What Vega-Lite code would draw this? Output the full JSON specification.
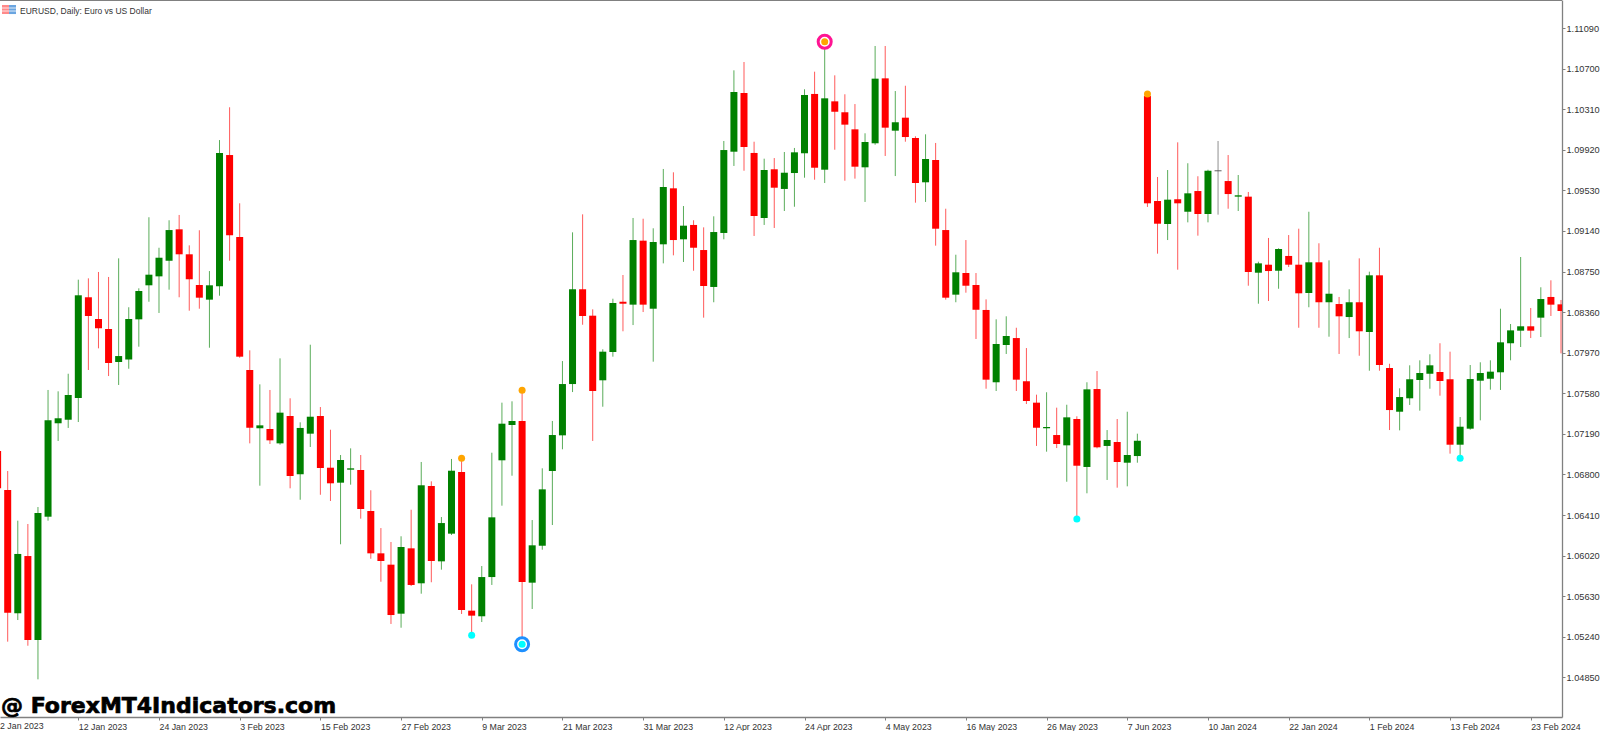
{
  "$schema": "https://vega.github.io/schema/vega-lite/v6.json",
  "width": 1562,
  "height": 717,
  "autosize": {"type": "none"},
  "padding": {"left": 0, "top": 0, "right": 38, "bottom": 14},
  "background": "#ffffff",
  "config": {"view": {"stroke": null}},
  "data": {"values": [
    {"i":-1,"o":1.07025,"h":1.07045,"l":1.06660,"c":1.06667,"d":"down"},
    {"i":0,"o":1.06651,"h":1.06833,"l":1.05193,"c":1.05471,"d":"down"},
    {"i":1,"o":1.05466,"h":1.06356,"l":1.05401,"c":1.06036,"d":"up"},
    {"i":2,"o":1.06016,"h":1.06324,"l":1.05154,"c":1.05209,"d":"down"},
    {"i":3,"o":1.05209,"h":1.06487,"l":1.04831,"c":1.06430,"d":"up"},
    {"i":4,"o":1.06394,"h":1.07612,"l":1.06356,"c":1.07321,"d":"up"},
    {"i":5,"o":1.07292,"h":1.07599,"l":1.07122,"c":1.07340,"d":"up"},
    {"i":6,"o":1.07326,"h":1.07768,"l":1.07247,"c":1.07564,"d":"up"},
    {"i":7,"o":1.07535,"h":1.08672,"l":1.07304,"c":1.08522,"d":"up"},
    {"i":8,"o":1.08503,"h":1.08685,"l":1.07804,"c":1.08323,"d":"down"},
    {"i":9,"o":1.08294,"h":1.08746,"l":1.08012,"c":1.08205,"d":"down"},
    {"i":10,"o":1.08198,"h":1.08698,"l":1.07746,"c":1.07871,"d":"down"},
    {"i":11,"o":1.07881,"h":1.08877,"l":1.07660,"c":1.07938,"d":"up"},
    {"i":12,"o":1.07905,"h":1.08407,"l":1.07816,"c":1.08294,"d":"up"},
    {"i":13,"o":1.08291,"h":1.08589,"l":1.08028,"c":1.08563,"d":"up"},
    {"i":14,"o":1.08618,"h":1.09272,"l":1.08460,"c":1.08720,"d":"up"},
    {"i":15,"o":1.08704,"h":1.08979,"l":1.08352,"c":1.08883,"d":"up"},
    {"i":16,"o":1.08854,"h":1.09243,"l":1.08576,"c":1.09149,"d":"up"},
    {"i":17,"o":1.09156,"h":1.09294,"l":1.08503,"c":1.08916,"d":"down"},
    {"i":18,"o":1.08916,"h":1.09002,"l":1.08374,"c":1.08676,"d":"down"},
    {"i":19,"o":1.08621,"h":1.09147,"l":1.08393,"c":1.08499,"d":"down"},
    {"i":20,"o":1.08480,"h":1.08755,"l":1.08018,"c":1.08618,"d":"up"},
    {"i":21,"o":1.08608,"h":1.10014,"l":1.08518,"c":1.09890,"d":"up"},
    {"i":22,"o":1.09870,"h":1.10329,"l":1.08854,"c":1.09099,"d":"down"},
    {"i":23,"o":1.09082,"h":1.09406,"l":1.07922,"c":1.07932,"d":"down"},
    {"i":24,"o":1.07804,"h":1.07993,"l":1.07099,"c":1.07249,"d":"down"},
    {"i":25,"o":1.07244,"h":1.07666,"l":1.06692,"c":1.07272,"d":"up"},
    {"i":26,"o":1.07237,"h":1.07612,"l":1.07093,"c":1.07128,"d":"down"},
    {"i":27,"o":1.07099,"h":1.07916,"l":1.07086,"c":1.07394,"d":"up"},
    {"i":28,"o":1.07362,"h":1.07532,"l":1.06667,"c":1.06785,"d":"down"},
    {"i":29,"o":1.06802,"h":1.07301,"l":1.06557,"c":1.07247,"d":"up"},
    {"i":30,"o":1.07192,"h":1.08047,"l":1.07064,"c":1.07355,"d":"up"},
    {"i":31,"o":1.07362,"h":1.07448,"l":1.06605,"c":1.06862,"d":"down"},
    {"i":32,"o":1.06865,"h":1.07230,"l":1.06545,"c":1.06715,"d":"down"},
    {"i":33,"o":1.06721,"h":1.06987,"l":1.06129,"c":1.06939,"d":"up"},
    {"i":34,"o":1.06846,"h":1.07051,"l":1.06702,"c":1.06859,"d":"up"},
    {"i":35,"o":1.06843,"h":1.06987,"l":1.06375,"c":1.06468,"d":"down"},
    {"i":36,"o":1.06449,"h":1.06648,"l":1.05990,"c":1.06042,"d":"down"},
    {"i":37,"o":1.06042,"h":1.06285,"l":1.05769,"c":1.05968,"d":"down"},
    {"i":38,"o":1.05933,"h":1.06151,"l":1.05363,"c":1.05449,"d":"down"},
    {"i":39,"o":1.05462,"h":1.06206,"l":1.05327,"c":1.06103,"d":"up"},
    {"i":40,"o":1.06090,"h":1.06461,"l":1.05728,"c":1.05738,"d":"down"},
    {"i":41,"o":1.05754,"h":1.06920,"l":1.05654,"c":1.06696,"d":"up"},
    {"i":42,"o":1.06689,"h":1.06734,"l":1.05764,"c":1.05968,"d":"down"},
    {"i":43,"o":1.05965,"h":1.06391,"l":1.05885,"c":1.06333,"d":"up"},
    {"i":44,"o":1.06231,"h":1.06949,"l":1.06218,"c":1.06836,"d":"up"},
    {"i":45,"o":1.06824,"h":1.06955,"l":1.05459,"c":1.05497,"d":"down"},
    {"i":46,"o":1.05491,"h":1.05744,"l":1.05254,"c":1.05443,"d":"down"},
    {"i":47,"o":1.05437,"h":1.05920,"l":1.05382,"c":1.05814,"d":"up"},
    {"i":48,"o":1.05814,"h":1.07009,"l":1.05738,"c":1.06388,"d":"up"},
    {"i":49,"o":1.06936,"h":1.07490,"l":1.06500,"c":1.07288,"d":"up"},
    {"i":50,"o":1.07275,"h":1.07503,"l":1.06788,"c":1.07314,"d":"up"},
    {"i":51,"o":1.07314,"h":1.07609,"l":1.05168,"c":1.05766,"d":"down"},
    {"i":52,"o":1.05760,"h":1.06362,"l":1.05507,"c":1.06119,"d":"up"},
    {"i":53,"o":1.06115,"h":1.06859,"l":1.06077,"c":1.06657,"d":"up"},
    {"i":54,"o":1.06833,"h":1.07314,"l":1.06314,"c":1.07179,"d":"up"},
    {"i":55,"o":1.07176,"h":1.07890,"l":1.07042,"c":1.07669,"d":"up"},
    {"i":56,"o":1.07669,"h":1.09127,"l":1.07592,"c":1.08580,"d":"up"},
    {"i":57,"o":1.08580,"h":1.09300,"l":1.08239,"c":1.08323,"d":"down"},
    {"i":58,"o":1.08326,"h":1.08387,"l":1.07122,"c":1.07602,"d":"down"},
    {"i":59,"o":1.07705,"h":1.08003,"l":1.07451,"c":1.07980,"d":"up"},
    {"i":60,"o":1.07977,"h":1.08489,"l":1.07932,"c":1.08448,"d":"up"},
    {"i":61,"o":1.08460,"h":1.08717,"l":1.08176,"c":1.08441,"d":"down"},
    {"i":62,"o":1.08432,"h":1.09265,"l":1.08236,"c":1.09053,"d":"up"},
    {"i":63,"o":1.09047,"h":1.09258,"l":1.08361,"c":1.08432,"d":"down"},
    {"i":64,"o":1.08393,"h":1.09166,"l":1.07884,"c":1.09034,"d":"up"},
    {"i":65,"o":1.09012,"h":1.09736,"l":1.08829,"c":1.09563,"d":"up"},
    {"i":66,"o":1.09550,"h":1.09704,"l":1.08906,"c":1.09053,"d":"down"},
    {"i":67,"o":1.09060,"h":1.09380,"l":1.08842,"c":1.09191,"d":"up"},
    {"i":68,"o":1.09198,"h":1.09243,"l":1.08758,"c":1.08979,"d":"down"},
    {"i":69,"o":1.08957,"h":1.09175,"l":1.08307,"c":1.08611,"d":"down"},
    {"i":70,"o":1.08602,"h":1.09281,"l":1.08455,"c":1.09130,"d":"up"},
    {"i":71,"o":1.09121,"h":1.10005,"l":1.09060,"c":1.09918,"d":"up"},
    {"i":72,"o":1.09902,"h":1.10684,"l":1.09765,"c":1.10476,"d":"up"},
    {"i":73,"o":1.10466,"h":1.10764,"l":1.09719,"c":1.09947,"d":"down"},
    {"i":74,"o":1.09890,"h":1.09998,"l":1.09092,"c":1.09284,"d":"down"},
    {"i":75,"o":1.09265,"h":1.09835,"l":1.09198,"c":1.09726,"d":"up"},
    {"i":76,"o":1.09733,"h":1.09841,"l":1.09169,"c":1.09556,"d":"down"},
    {"i":77,"o":1.09544,"h":1.09899,"l":1.09332,"c":1.09700,"d":"up"},
    {"i":78,"o":1.09697,"h":1.09938,"l":1.09373,"c":1.09896,"d":"up"},
    {"i":79,"o":1.09887,"h":1.10502,"l":1.09652,"c":1.10447,"d":"up"},
    {"i":80,"o":1.10457,"h":1.10671,"l":1.09633,"c":1.09748,"d":"down"},
    {"i":81,"o":1.09729,"h":1.10959,"l":1.09601,"c":1.10415,"d":"up"},
    {"i":82,"o":1.10386,"h":1.10636,"l":1.09921,"c":1.10286,"d":"down"},
    {"i":83,"o":1.10281,"h":1.10454,"l":1.09623,"c":1.10162,"d":"down"},
    {"i":84,"o":1.10117,"h":1.10360,"l":1.09643,"c":1.09758,"d":"down"},
    {"i":85,"o":1.09752,"h":1.10079,"l":1.09419,"c":1.09995,"d":"up"},
    {"i":86,"o":1.09983,"h":1.10918,"l":1.09969,"c":1.10604,"d":"up"},
    {"i":87,"o":1.10607,"h":1.10918,"l":1.09861,"c":1.10133,"d":"down"},
    {"i":88,"o":1.10104,"h":1.10485,"l":1.09668,"c":1.10185,"d":"up"},
    {"i":89,"o":1.10229,"h":1.10536,"l":1.09998,"c":1.10043,"d":"down"},
    {"i":90,"o":1.10034,"h":1.10050,"l":1.09412,"c":1.09601,"d":"down"},
    {"i":91,"o":1.09608,"h":1.10069,"l":1.09419,"c":1.09832,"d":"up"},
    {"i":92,"o":1.09822,"h":1.09986,"l":1.08999,"c":1.09162,"d":"down"},
    {"i":93,"o":1.09149,"h":1.09354,"l":1.08480,"c":1.08499,"d":"down"},
    {"i":94,"o":1.08528,"h":1.08912,"l":1.08455,"c":1.08743,"d":"up"},
    {"i":95,"o":1.08736,"h":1.09053,"l":1.08547,"c":1.08614,"d":"down"},
    {"i":96,"o":1.08621,"h":1.08736,"l":1.08102,"c":1.08383,"d":"down"},
    {"i":97,"o":1.08381,"h":1.08483,"l":1.07624,"c":1.07711,"d":"down"},
    {"i":98,"o":1.07686,"h":1.08291,"l":1.07602,"c":1.08054,"d":"up"},
    {"i":99,"o":1.08044,"h":1.08320,"l":1.07958,"c":1.08131,"d":"up"},
    {"i":100,"o":1.08111,"h":1.08210,"l":1.07602,"c":1.07711,"d":"down"},
    {"i":101,"o":1.07695,"h":1.08015,"l":1.07477,"c":1.07506,"d":"down"},
    {"i":102,"o":1.07490,"h":1.07567,"l":1.07074,"c":1.07249,"d":"down"},
    {"i":103,"o":1.07244,"h":1.07590,"l":1.07019,"c":1.07256,"d":"up"},
    {"i":104,"o":1.07179,"h":1.07442,"l":1.07054,"c":1.07093,"d":"down"},
    {"i":105,"o":1.07080,"h":1.07470,"l":1.06730,"c":1.07349,"d":"up"},
    {"i":106,"o":1.07333,"h":1.07359,"l":1.06372,"c":1.06884,"d":"down"},
    {"i":107,"o":1.06872,"h":1.07686,"l":1.06619,"c":1.07618,"d":"up"},
    {"i":108,"o":1.07621,"h":1.07794,"l":1.07051,"c":1.07061,"d":"down"},
    {"i":109,"o":1.07074,"h":1.07227,"l":1.06747,"c":1.07131,"d":"up"},
    {"i":110,"o":1.07112,"h":1.07333,"l":1.06673,"c":1.06920,"d":"down"},
    {"i":111,"o":1.06913,"h":1.07403,"l":1.06686,"c":1.06987,"d":"up"},
    {"i":112,"o":1.06977,"h":1.07192,"l":1.06913,"c":1.07124,"d":"up"},
    {"i":113,"o":1.10437,"h":1.10457,"l":1.09371,"c":1.09406,"d":"down"},
    {"i":114,"o":1.09428,"h":1.09659,"l":1.08922,"c":1.09210,"d":"down"},
    {"i":115,"o":1.09207,"h":1.09726,"l":1.09053,"c":1.09441,"d":"up"},
    {"i":116,"o":1.09445,"h":1.09992,"l":1.08768,"c":1.09406,"d":"down"},
    {"i":117,"o":1.09325,"h":1.09791,"l":1.09223,"c":1.09502,"d":"up"},
    {"i":118,"o":1.09524,"h":1.09666,"l":1.09095,"c":1.09303,"d":"down"},
    {"i":119,"o":1.09303,"h":1.09729,"l":1.09223,"c":1.09719,"d":"up"},
    {"i":120,"o":1.09723,"h":1.10005,"l":1.09297,"c":1.09714,"d":"flat"},
    {"i":121,"o":1.09620,"h":1.09870,"l":1.09354,"c":1.09495,"d":"down"},
    {"i":122,"o":1.09470,"h":1.09678,"l":1.09332,"c":1.09483,"d":"up"},
    {"i":123,"o":1.09470,"h":1.09515,"l":1.08614,"c":1.08746,"d":"down"},
    {"i":124,"o":1.08739,"h":1.08845,"l":1.08441,"c":1.08829,"d":"up"},
    {"i":125,"o":1.08816,"h":1.09073,"l":1.08467,"c":1.08755,"d":"down"},
    {"i":126,"o":1.08758,"h":1.08974,"l":1.08585,"c":1.08967,"d":"up"},
    {"i":127,"o":1.08900,"h":1.09101,"l":1.08794,"c":1.08816,"d":"down"},
    {"i":128,"o":1.08816,"h":1.09162,"l":1.08210,"c":1.08541,"d":"down"},
    {"i":129,"o":1.08544,"h":1.09325,"l":1.08407,"c":1.08839,"d":"up"},
    {"i":130,"o":1.08839,"h":1.09022,"l":1.08210,"c":1.08455,"d":"down"},
    {"i":131,"o":1.08455,"h":1.08858,"l":1.08124,"c":1.08537,"d":"up"},
    {"i":132,"o":1.08438,"h":1.08506,"l":1.07958,"c":1.08320,"d":"down"},
    {"i":133,"o":1.08313,"h":1.08580,"l":1.08111,"c":1.08455,"d":"up"},
    {"i":134,"o":1.08455,"h":1.08877,"l":1.07941,"c":1.08176,"d":"down"},
    {"i":135,"o":1.08169,"h":1.08749,"l":1.07797,"c":1.08714,"d":"up"},
    {"i":136,"o":1.08714,"h":1.08979,"l":1.07797,"c":1.07852,"d":"down"},
    {"i":137,"o":1.07823,"h":1.07864,"l":1.07227,"c":1.07419,"d":"down"},
    {"i":138,"o":1.07403,"h":1.07628,"l":1.07224,"c":1.07544,"d":"up"},
    {"i":139,"o":1.07532,"h":1.07849,"l":1.07468,"c":1.07715,"d":"up"},
    {"i":140,"o":1.07708,"h":1.07897,"l":1.07413,"c":1.07775,"d":"up"},
    {"i":141,"o":1.07768,"h":1.07955,"l":1.07624,"c":1.07849,"d":"up"},
    {"i":142,"o":1.07785,"h":1.08061,"l":1.07557,"c":1.07698,"d":"down"},
    {"i":143,"o":1.07715,"h":1.07980,"l":1.07000,"c":1.07086,"d":"down"},
    {"i":144,"o":1.07086,"h":1.07352,"l":1.06955,"c":1.07259,"d":"up"},
    {"i":145,"o":1.07240,"h":1.07852,"l":1.07230,"c":1.07717,"d":"up"},
    {"i":146,"o":1.07701,"h":1.07878,"l":1.07320,"c":1.07775,"d":"up"},
    {"i":147,"o":1.07720,"h":1.07897,"l":1.07615,"c":1.07788,"d":"up"},
    {"i":148,"o":1.07782,"h":1.08393,"l":1.07612,"c":1.08070,"d":"up"},
    {"i":149,"o":1.08061,"h":1.08246,"l":1.07897,"c":1.08185,"d":"up"},
    {"i":150,"o":1.08182,"h":1.08890,"l":1.08025,"c":1.08224,"d":"up"},
    {"i":151,"o":1.08224,"h":1.08400,"l":1.08111,"c":1.08182,"d":"down"},
    {"i":152,"o":1.08307,"h":1.08599,"l":1.08121,"c":1.08486,"d":"up"},
    {"i":153,"o":1.08506,"h":1.08666,"l":1.08323,"c":1.08432,"d":"down"},
    {"i":154,"o":1.08435,"h":1.08477,"l":1.07964,"c":1.08371,"d":"down"}
  ]},
  "datasets": {
    "highDots": [{"i":45,"p":1.06955},{"i":51,"p":1.07609},{"i":81,"p":1.10959},{"i":113,"p":1.10457}],
    "lowDots": [{"i":46,"p":1.05254},{"i":51,"p":1.05168},{"i":106,"p":1.06372},{"i":144,"p":1.06955}],
    "pinkRing": [{"i":81,"p":1.10959}],
    "blueRing": [{"i":51,"p":1.05168}]
  },
  "layer": [
    {
      "mark": {"type": "rule", "strokeWidth": 1, "opacity": 0.65, "clip": true},
      "encoding": {
        "x": {
          "field": "i",
          "type": "quantitative",
          "title": null,
          "scale": {"domain": [-0.7634, 154.1], "nice": false, "zero": false, "padding": 0},
          "axis": {
            "values": [7, 15, 23, 31, 39, 47, 55, 63, 71, 79, 87, 95, 103, 111, 119, 127, 135, 143, 151],
            "labelExpr": "['2 Jan 2023','12 Jan 2023','24 Jan 2023','3 Feb 2023','15 Feb 2023','27 Feb 2023','9 Mar 2023','21 Mar 2023','31 Mar 2023','12 Apr 2023','24 Apr 2023','4 May 2023','16 May 2023','26 May 2023','7 Jun 2023','10 Jan 2024','22 Jan 2024','1 Feb 2024','13 Feb 2024','23 Feb 2024'][(datum.value + 1) / 8]",
            "grid": false,
            "labelAlign": "left",
            "labelBaseline": "top",
            "labelFont": "Liberation Sans",
            "labelFontSize": 8.8,
            "labelColor": "#333333",
            "labelPadding": 2,
            "labelFlush": false,
            "labelOverlap": false,
            "labelBound": false,
            "tickSize": 3,
            "tickColor": "#808080",
            "domainColor": "#808080",
            "domainWidth": 1.3
          }
        },
        "y": {
          "field": "l",
          "type": "quantitative",
          "title": null,
          "scale": {"domain": [1.04469, 1.1136], "nice": false, "zero": false, "padding": 0},
          "axis": {
            "orient": "right",
            "values": [1.1109, 1.107, 1.1031, 1.0992, 1.0953, 1.0914, 1.0875, 1.0836, 1.0797, 1.0758, 1.0719, 1.068, 1.0641, 1.0602, 1.0563, 1.0524, 1.0485],
            "format": ".5f",
            "grid": false,
            "labelFont": "Liberation Sans",
            "labelFontSize": 9.2,
            "labelColor": "#333333",
            "labelPadding": 1,
            "labelOverlap": false,
            "labelBound": false,
            "tickSize": 3,
            "tickColor": "#808080",
            "domainColor": "#808080",
            "domainWidth": 1.3
          }
        },
        "y2": {"field": "h"},
        "color": {
          "field": "d",
          "type": "nominal",
          "legend": null,
          "scale": {"domain": ["down", "up", "flat"], "range": ["#ff0000", "#008000", "#555555"]}
        }
      }
    },
    {
      "mark": {"type": "bar", "size": 7, "clip": true},
      "encoding": {
        "x": {"field": "i", "type": "quantitative", "title": null, "scale": {"domain": [-0.7634, 154.1], "nice": false, "zero": false, "padding": 0}},
        "y": {"field": "o", "type": "quantitative", "title": null, "axis": {"orient": "right"}},
        "y2": {"field": "c"},
        "color": {"field": "d", "type": "nominal", "legend": null}
      }
    },
    {
      "data": {"name": "pinkRing"},
      "mark": {"type": "point", "filled": false, "fill": "#ffffff", "fillOpacity": 1, "stroke": "#ff1493", "strokeWidth": 3, "size": 170, "opacity": 1},
      "encoding": {"x": {"field": "i", "type": "quantitative", "title": null}, "y": {"field": "p", "type": "quantitative", "title": null, "axis": {"orient": "right"}}}
    },
    {
      "data": {"name": "blueRing"},
      "mark": {"type": "point", "filled": false, "fill": "#ffffff", "fillOpacity": 1, "stroke": "#1e90ff", "strokeWidth": 3, "size": 170, "opacity": 1},
      "encoding": {"x": {"field": "i", "type": "quantitative", "title": null}, "y": {"field": "p", "type": "quantitative", "title": null, "axis": {"orient": "right"}}}
    },
    {
      "data": {"name": "highDots"},
      "mark": {"type": "point", "filled": true, "color": "#ffa500", "size": 49, "opacity": 1},
      "encoding": {"x": {"field": "i", "type": "quantitative", "title": null}, "y": {"field": "p", "type": "quantitative", "title": null, "axis": {"orient": "right"}}}
    },
    {
      "data": {"name": "lowDots"},
      "mark": {"type": "point", "filled": true, "color": "#00ffff", "size": 49, "opacity": 1},
      "encoding": {"x": {"field": "i", "type": "quantitative", "title": null}, "y": {"field": "p", "type": "quantitative", "title": null, "axis": {"orient": "right"}}}
    },
    {
      "data": {"values": [{"n": 1}]},
      "mark": {"type": "rule", "color": "#808080", "strokeWidth": 2},
      "encoding": {"x": {"datum": -0.7634, "title": null}, "x2": {"datum": 154.1}, "y": {"datum": 1.1136, "title": null, "axis": {"orient": "right"}}}
    },
    {
      "data": {"values": [{"label": "EURUSD, Daily:  Euro vs US Dollar"}]},
      "mark": {"type": "text", "align": "left", "baseline": "alphabetic", "font": "Liberation Sans", "fontSize": 8.5, "color": "#333333"},
      "encoding": {
        "x": {"datum": 1.22, "type": "quantitative", "title": null},
        "y": {"datum": 1.11225, "type": "quantitative", "title": null, "axis": {"orient": "right"}},
        "text": {"field": "label", "type": "nominal"}
      }
    },
    {
      "data": {"values": [{"label": "@ ForexMT4Indicators.com"}]},
      "mark": {"type": "text", "align": "left", "baseline": "alphabetic", "font": "DejaVu Sans", "fontWeight": "bold", "fontSize": 22, "color": "#000000", "stroke": "#000000", "strokeWidth": 0.7},
      "encoding": {
        "x": {"datum": -0.66, "type": "quantitative", "title": null},
        "y": {"datum": 1.04507, "type": "quantitative", "title": null, "axis": {"orient": "right"}},
        "text": {"field": "label", "type": "nominal"}
      }
    },
    {
      "data": {"values": [{"label": "2 Jan 2023"}]},
      "mark": {"type": "text", "align": "left", "baseline": "alphabetic", "font": "Liberation Sans", "fontSize": 8.8, "color": "#333333"},
      "encoding": {
        "x": {"datum": -0.76, "type": "quantitative", "title": null},
        "y": {"datum": 1.04354, "type": "quantitative", "title": null, "axis": {"orient": "right"}},
        "text": {"field": "label", "type": "nominal"}
      }
    },
    {
      "data": {"values": [{"n": 1}]},
      "mark": {"type": "rect", "color": "#ff8a8a"},
      "encoding": {"x": {"datum": -0.565, "title": null}, "x2": {"datum": 0.129}, "y": {"datum": 1.11312, "title": null, "axis": {"orient": "right"}}, "y2": {"datum": 1.11225}}
    },
    {
      "data": {"values": [{"n": 1}]},
      "mark": {"type": "rect", "color": "#6aa5e0"},
      "encoding": {"x": {"datum": 0.129, "title": null}, "x2": {"datum": 0.823}, "y": {"datum": 1.11312, "title": null, "axis": {"orient": "right"}}, "y2": {"datum": 1.11225}}
    },
    {
      "data": {"values": [{"n": 1}]},
      "mark": {"type": "rule", "color": "#ffffff", "strokeWidth": 0.8},
      "encoding": {"x": {"datum": -0.565, "title": null}, "x2": {"datum": 0.823}, "y": {"datum": 1.11283, "title": null, "axis": {"orient": "right"}}}
    },
    {
      "data": {"values": [{"n": 1}]},
      "mark": {"type": "rule", "color": "#ffffff", "strokeWidth": 0.8},
      "encoding": {"x": {"datum": -0.565, "title": null}, "x2": {"datum": 0.823}, "y": {"datum": 1.11254, "title": null, "axis": {"orient": "right"}}}
    }
  ]
}
